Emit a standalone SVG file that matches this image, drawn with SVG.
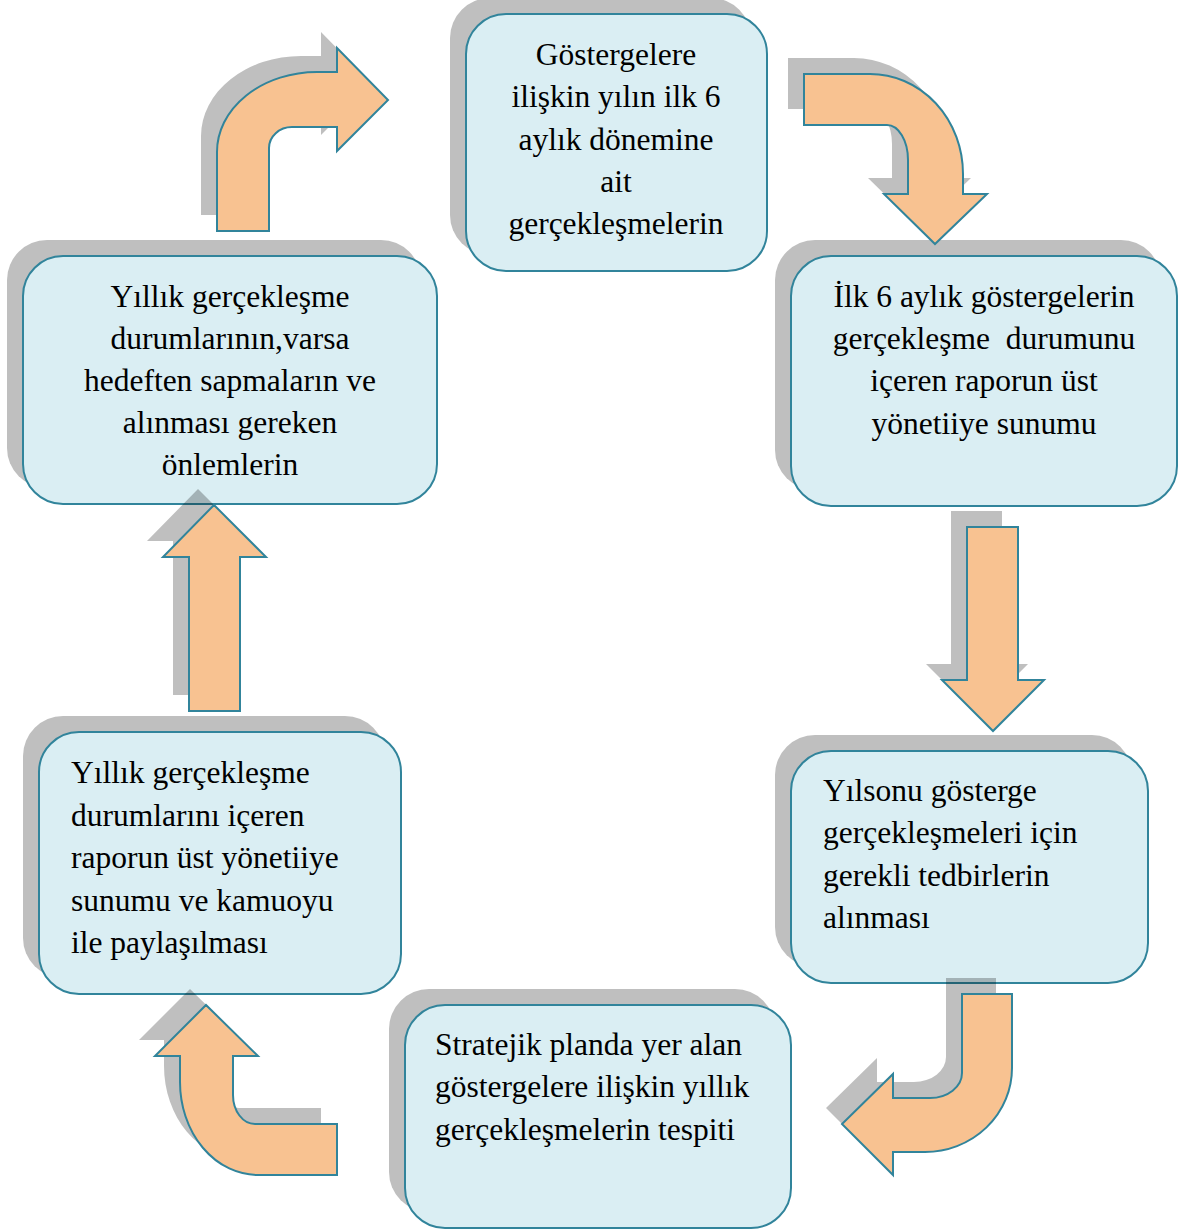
<svg xmlns="http://www.w3.org/2000/svg" width="1180" height="1231" viewBox="0 0 1180 1231">
<style>
.sh{fill:#bfbfbf;}
.ash{fill:#000;fill-opacity:0.25;}
.box{fill:#daeef3;stroke:#31849b;stroke-width:2;}
.arr{fill:#f8c291;stroke:#31849b;stroke-width:2;stroke-linejoin:miter;}
text{font-family:"Liberation Serif","Times New Roman",serif;font-size:31.5px;fill:#000;white-space:pre;}
.c{text-anchor:middle;}
</style>
<defs>
<path id="pA" d="M 217 231 L 217 152 A 100 80 0 0 1 317 72 L 337 72 L 337 48 L 388 100 L 337 151 L 337 127 L 292 127 A 23 21 0 0 0 269 148 L 269 231 Z"/>
<path id="pB" d="M 804 74 L 870 74 A 93 100 0 0 1 963 174 L 963 194 L 987 194 L 935 244 L 884 194 L 908 194 L 908 160 A 21 35 0 0 0 887 125 L 804 125 Z"/>
<path id="pC" d="M 967 527 L 1018 527 L 1018 680 L 1044 680 L 993 731 L 942 680 L 967 680 Z"/>
<path id="pD" d="M 962 994 L 1012 994 L 1012 1068 A 87 84 0 0 1 925 1152 L 893 1152 L 893 1175 L 842 1124 L 893 1074 L 893 1098 L 930 1098 A 32 25 0 0 0 962 1073 Z"/>
<path id="pE" d="M 337 1124 L 337 1175 L 258 1175 A 78 93 0 0 1 180 1082 L 180 1056 L 155 1056 L 206 1005 L 258 1056 L 233 1056 L 233 1095 A 22 29 0 0 0 255 1124 Z"/>
<path id="pF" d="M 189 711 L 240 711 L 240 557 L 266 557 L 214 505 L 163 557 L 189 557 Z"/>
</defs>

<g id="n1">
<rect class="sh" x="450" y="-2" width="301" height="257" rx="40"/>
<rect class="box" x="466" y="14" width="301" height="257" rx="40"/>
<text class="c" x="616" y="65">Göstergelere</text>
<text class="c" x="616" y="107">ilişkin yılın ilk 6</text>
<text class="c" x="616" y="150">aylık dönemine</text>
<text class="c" x="616" y="192">ait</text>
<text class="c" x="616" y="234">gerçekleşmelerin</text>
</g>

<g id="n2">
<rect class="sh" x="775" y="240" width="386" height="250" rx="40"/>
<rect class="box" x="791" y="256" width="386" height="250" rx="40"/>
<text class="c" x="984" y="307">İlk 6 aylık göstergelerin</text>
<text class="c" x="984" y="349">gerçekleşme  durumunu</text>
<text class="c" x="984" y="391">içeren raporun üst</text>
<text class="c" x="984" y="434">yönetiiye sunumu</text>
</g>

<g id="n3">
<rect class="sh" x="775" y="735" width="357" height="232" rx="40"/>
<rect class="box" x="791" y="751" width="357" height="232" rx="40"/>
<text x="823" y="801">Yılsonu gösterge</text>
<text x="823" y="843">gerçekleşmeleri için</text>
<text x="823" y="886">gerekli tedbirlerin</text>
<text x="823" y="928">alınması</text>
</g>

<g id="n4">
<rect class="sh" x="389" y="989" width="386" height="223" rx="40"/>
<rect class="box" x="405" y="1005" width="386" height="223" rx="40"/>
<text x="435" y="1055">Stratejik planda yer alan</text>
<text x="435" y="1097">göstergelere ilişkin yıllık</text>
<text x="435" y="1140">gerçekleşmelerin tespiti</text>
</g>

<g id="n5">
<rect class="sh" x="23" y="716" width="362" height="262" rx="40"/>
<rect class="box" x="39" y="732" width="362" height="262" rx="40"/>
<text x="71" y="783">Yıllık gerçekleşme</text>
<text x="71" y="826">durumlarını içeren</text>
<text x="71" y="868">raporun üst yönetiiye</text>
<text x="71" y="911">sunumu ve kamuoyu</text>
<text x="71" y="953">ile paylaşılması</text>
</g>

<g id="n6">
<rect class="sh" x="7" y="240" width="414" height="248" rx="40"/>
<rect class="box" x="23" y="256" width="414" height="248" rx="40"/>
<text class="c" x="230" y="307">Yıllık gerçekleşme</text>
<text class="c" x="230" y="349">durumlarının,varsa</text>
<text class="c" x="230" y="391">hedeften sapmaların ve</text>
<text class="c" x="230" y="433">alınması gereken</text>
<text class="c" x="230" y="475">önlemlerin</text>
</g>

<g id="connectors">
<g transform="translate(-16,-16)">
<use href="#pA" class="ash"/>
<use href="#pB" class="ash"/>
<use href="#pC" class="ash"/>
<use href="#pD" class="ash"/>
<use href="#pE" class="ash"/>
<use href="#pF" class="ash"/>
</g>
<use href="#pA" class="arr"/>
<use href="#pB" class="arr"/>
<use href="#pC" class="arr"/>
<use href="#pD" class="arr"/>
<use href="#pE" class="arr"/>
<use href="#pF" class="arr"/>
</g>
</svg>
